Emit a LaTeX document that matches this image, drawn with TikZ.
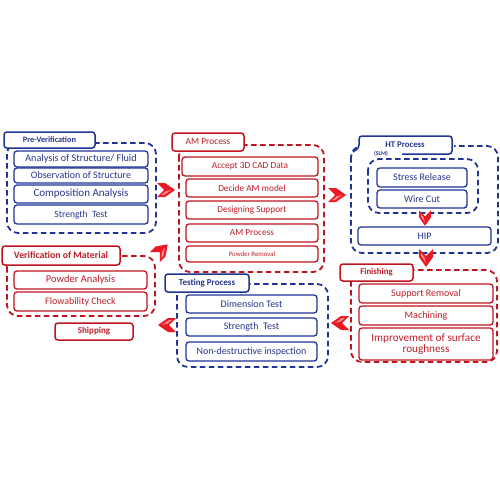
\documentclass[tikz,border=0pt]{standalone}
\usepackage{fontspec}
\setmainfont{Carlito}
\definecolor{bline}{RGB}{32,52,150}
\definecolor{btext}{RGB}{40,55,140}
\definecolor{rline}{RGB}{192,20,32}
\definecolor{rtext}{RGB}{190,30,40}
\definecolor{chevred}{RGB}{235,25,35}
\definecolor{chevpink}{RGB}{255,140,150}
\begin{document}
\begin{tikzpicture}[x=1pt,y=-1pt,
  blueC/.style={draw=bline},
  redC/.style={draw=rline},
  bbox/.style={blueC,fill=white,rounded corners=3pt,line width=1.3pt,inner sep=0pt,
    text=btext,font=\fontsize{10}{11}\selectfont},
  rbox/.style={redC,fill=white,rounded corners=3pt,line width=1.3pt,inner sep=0pt,
    text=rtext,font=\fontsize{10}{11}\selectfont},
  btab/.style={bbox,line width=1.5pt,font=\bfseries\fontsize{8.7}{9}\selectfont},
  rtab/.style={rbox,line width=1.5pt,font=\bfseries\fontsize{8.8}{9}\selectfont},
  bdash/.style={blueC,line width=1.8pt,dash pattern=on 5.5pt off 3.5pt,rounded corners=11pt},
  rdash/.style={redC,line width=1.8pt,dash pattern=on 5.5pt off 3.5pt,rounded corners=11pt},
  chev/.pic={\fill[chevred] (-10,-7)--(-2,-7)--(8,0)--(-2,7)--(-10,7)--(-3,0)--cycle;
             \fill[chevpink] (-6,5)--(-3,5)--(4,0)--(-1.5,1.5)--cycle;}
]
\useasboundingbox (0,0) rectangle (500,500);

% ---------- containers ----------
\draw[bdash] (7,143) rectangle (156,233);
\draw[rdash] (179,145) rectangle (324,272);
\draw[bdash] (351,146) rectangle (498,253);
\draw[bdash] (368,159) rectangle (478,213);
\draw[rdash] (351,270) rectangle (497,362);
\draw[bdash] (177,284) rectangle (328,367);
\draw[rdash] (7,256) rectangle (155,316);

% ---------- Pre-Verification ----------
\node[btab,minimum width=91pt,minimum height=16pt,font=\bfseries\fontsize{8.3}{9}\selectfont] (pvt) at (49.5,140) {Pre-Verification};
\node[bbox,minimum width=134pt,minimum height=16pt,font=\fontsize{10.2}{11}\selectfont] (a1) at (81,159) {Analysis of Structure/ Fluid};
\node[bbox,minimum width=134pt,minimum height=15pt] (a2) at (81,175.5) {Observation of Structure};
\node[bbox,minimum width=134pt,minimum height=18pt,font=\fontsize{11}{12}\selectfont] (a3) at (81,194) {Composition Analysis};
\node[bbox,minimum width=134pt,minimum height=19pt,font=\fontsize{9.6}{11}\selectfont] (a4) at (81,214.5) {Strength\ \ Test};

% ---------- AM Process ----------
\node[rbox,line width=1.5pt,minimum width=72pt,minimum height=18pt,font=\fontsize{9.4}{10}\selectfont] (amt) at (208,142) {AM Process};
\node[rbox,minimum width=136pt,minimum height=19pt,font=\fontsize{9.3}{10}\selectfont] (b1) at (250,166.5) {Accept 3D CAD Data};
\node[rbox,minimum width=132pt,minimum height=18pt,font=\fontsize{9.3}{10}\selectfont] (b2) at (252,188) {Decide AM model};
\node[rbox,minimum width=132pt,minimum height=18pt,font=\fontsize{9.3}{10}\selectfont] (b3) at (252,210) {Designing Support};
\node[rbox,minimum width=132pt,minimum height=18pt,font=\fontsize{9.3}{10}\selectfont] (b4) at (252,233) {AM Process};
\node[rbox,minimum width=132pt,minimum height=16pt,font=\fontsize{6.8}{7}\selectfont] (b5) at (252,254) {Powder Removal};

% ---------- HT Process ----------
\fill[white] (357,134) rectangle (454,156);
\draw[blueC,line width=1.5pt,rounded corners=3pt] (402,154)--(452,154)--(452,136)--(359,136)--(359,148)--(353,152);
\node[inner sep=0pt,text=btext,font=\bfseries\fontsize{8.8}{9}\selectfont] (htt) at (405,144.5) {HT Process};
\node[inner sep=0pt,text=btext,font=\bfseries\fontsize{5.8}{6}\selectfont] (slm) at (381,154) {(SLM)};
\node[bbox,minimum width=90pt,minimum height=19pt] (c1) at (422,177.5) {Stress Release};
\node[bbox,minimum width=90pt,minimum height=18pt] (c2) at (422,199) {Wire Cut};
\node[bbox,minimum width=133pt,minimum height=18pt] (c3) at (424.5,236) {HIP};

% ---------- Finishing ----------
\node[rtab,minimum width=73pt,minimum height=17pt] (fit) at (376.5,272.5) {Finishing};
\node[rbox,minimum width=134pt,minimum height=19pt] (d1) at (426,293.5) {Support Removal};
\node[rbox,minimum width=134pt,minimum height=19pt] (d2) at (426,315.5) {Machining};
\node[rbox,minimum width=134pt,minimum height=32pt,align=center,font=\fontsize{11.2}{11.5}\selectfont] (d3) at (426,344) {Improvement of surface\\roughness};

% ---------- Testing Process ----------
\node[btab,minimum width=84pt,minimum height=18pt,font=\bfseries\fontsize{9}{10}\selectfont] (tpt) at (207,283) {Testing Process};
\node[bbox,minimum width=131pt,minimum height=18pt] (e1) at (251.5,304) {Dimension Test};
\node[bbox,minimum width=131pt,minimum height=18pt] (e2) at (251.5,327) {Strength\ \ Test};
\node[bbox,minimum width=131pt,minimum height=19pt] (e3) at (251.5,351.5) {Non-destructive inspection};

% ---------- Verification of Material ----------
\node[rtab,minimum width=118pt,minimum height=19pt,font=\bfseries\fontsize{9.8}{10}\selectfont] (vmt) at (61,255.5) {Verification of Material};
\node[rbox,minimum width=133pt,minimum height=18pt,font=\fontsize{10.5}{11}\selectfont] (f1) at (80.5,280) {Powder Analysis};
\node[rbox,minimum width=133pt,minimum height=19pt] (f2) at (80.5,301.5) {Flowability Check};
\node[rtab,minimum width=78pt,minimum height=17pt,font=\bfseries\fontsize{9}{10}\selectfont] (shp) at (94,331.5) {Shipping};

% ---------- chevrons ----------
\pic at (167,190) {chev};
\pic at (338,195) {chev};
\pic[rotate=-90] at (426,259) {chev};
\pic[rotate=-90,scale=0.85] at (425,219) {chev};
\pic[rotate=180] at (339,323) {chev};
\pic[rotate=180] at (166,325) {chev};
\pic[rotate=45] at (162,250) {chev};
\end{tikzpicture}
\end{document}
